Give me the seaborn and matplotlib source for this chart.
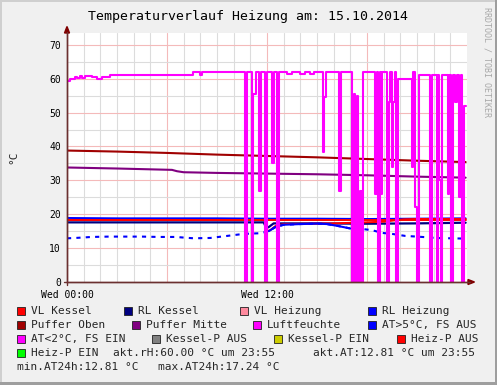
import numpy as np
import pandas as pd
import matplotlib
matplotlib.use("Agg")
import matplotlib.pyplot as plt
import seaborn as sns
from matplotlib.patches import Rectangle, Polygon
from matplotlib.lines import Line2D

# ---------------- data (hours since Wed 00:00) ----------------
ref_hours = [0, 3, 6, 9, 12, 15, 18, 21, 23.92]
puffer_oben = [38.8, 38.5, 38.1, 37.6, 37.2, 36.8, 36.3, 35.8, 35.4]

mitte_hours = [0, 3, 6.3, 6.6, 7.0, 9, 12, 15, 18, 21, 23.92]
puffer_mitte = [33.8, 33.5, 33.1, 32.7, 32.4, 32.2, 32.0, 31.8, 31.5, 31.1, 30.8]

rl_heizung = [18.9, 18.8, 18.8, 18.8, 18.7, 18.7, 18.6, 18.7, 18.8]

rlk_hours = [0, 6, 11.8, 11.95, 12.1, 12.4, 15, 18, 21, 23.92]
rl_kessel = [17.6, 17.6, 17.6, 16.0, 16.2, 17.3, 17.3, 17.2, 17.3, 17.5]

vlk_hours = [0, 6, 11.85, 12.0, 12.2, 12.5, 13, 16, 19, 20.2, 21, 23.92]
vl_kessel = [18.3, 18.3, 18.3, 15.0, 15.3, 16.5, 17.1, 17.3, 17.8, 18.5, 18.6, 18.6]

heizp_hours = [0, 23.92]
heizp_aus = [18.3, 18.3]

at_hours = [0, 0.5, 1.5, 2.5, 3.5, 4.5, 5.5, 6.5, 7.6, 8.6, 9.6, 10.6, 11.6,
            12.1, 12.5, 13.0, 14.0, 15.0, 15.6, 16.3, 17.0, 17.8, 18.3, 18.9,
            19.5, 20.3, 21.0, 21.6, 22.1, 23.0, 23.92]
at_vals = [12.9, 13.0, 13.3, 13.4, 13.4, 13.4, 13.3, 13.3, 12.9, 13.0, 13.6, 14.2, 14.4,
           15.0, 16.2, 16.9, 17.1, 17.24, 17.1, 16.5, 15.8, 15.6, 15.3, 14.5,
           14.2, 13.6, 13.4, 13.2, 13.0, 12.9, 12.81]
at_solid_from, at_solid_to = 12.1, 17.0

hum_hours = [0.00, 0.20, 0.45, 0.60, 0.75, 0.90, 1.05, 1.25, 1.50, 1.80, 2.10, 2.60,
             7.58, 8.00, 8.10, 10.68, 10.80, 11.10, 11.19, 11.34, 11.52, 11.64, 11.88,
             12.00, 12.30, 12.42, 12.60, 12.72, 13.20, 13.50, 14.00, 14.30, 14.60, 14.80,
             15.36, 15.45, 15.54, 16.32, 16.44, 17.10, 17.22, 17.28, 17.40, 17.46, 17.58,
             17.70, 17.76, 18.48, 18.60, 18.66, 18.78, 18.84, 18.90, 19.20, 19.32, 19.38,
             19.48, 19.58, 19.68, 19.77, 19.86, 20.70, 20.79, 20.88, 21.00, 21.12, 21.78,
             21.90, 22.20, 22.29, 22.35, 22.44, 22.53, 22.86, 22.95, 23.07, 23.19, 23.28,
             23.40, 23.52, 23.64, 23.73, 23.82, 23.92]
hum_vals = [59.3, 60.0, 60.6, 60.1, 60.8, 60.2, 60.7, 60.8, 60.4, 60.0, 60.6, 61.0,
            62.0, 61.2, 62.0, 0, 62.0, 0, 55.5, 62.0, 27.0, 62.0, 0,
            62.0, 35.0, 62.0, 0, 62.0, 61.3, 62.0, 61.3, 62.0, 61.4, 62.0,
            38.4, 54.6, 62.0, 27.0, 62.0, 0, 55.5, 0, 55.0, 0, 27.0,
            0, 62.0, 26.0, 62.0, 0, 62.0, 26.0, 62.0, 0, 53.0, 62.0,
            34.0, 53.0, 62.0, 0, 60.0, 34.0, 62.0, 22.0, 0, 61.0, 0,
            61.0, 0, 61.0, 30.0, 0, 61.0, 26.0, 61.0, 0, 61.0, 53.0,
            61.0, 25.0, 61.0, 0, 52.0, 52.0]

legend_labels = ["VL Kessel", "RL Kessel", "VL Heizung", "RL Heizung",
                 "Puffer Oben", "Puffer Mitte", "Luftfeuchte", "AT>5°C, FS AUS",
                 "AT<2°C, FS EIN", "Kessel-P AUS", "Kessel-P EIN", "Heiz-P AUS",
                 "Heiz-P EIN"]
legend_colors = ["#FF0000", "#000080", "#FF8A9E", "#0000FF",
                 "#A00000", "#800080", "#FF00FF", "#0000FF",
                 "#FF00FF", "#808080", "#CCCC00", "#FF0000",
                 "#00FF00"]
info_texts = ["akt.rH:60.00 °C um 23:55", "akt.AT:12.81 °C um 23:55",
              "min.AT24h:12.81 °C", "max.AT24h:17.24 °C"]
title = "Temperaturverlauf Heizung am: 15.10.2014"
x_tick_labels = ["Wed 00:00", "Wed 12:00"]

# ---------------- figure ----------------
sns.set_theme(style="white")
plt.rcParams["font.family"] = ["DejaVu Sans Mono", "DejaVu Sans"]

W, H = 497, 385
fig = plt.figure(figsize=(W / 100, H / 100), dpi=100, facecolor="#F0F0F0")
def fx(px): return px / W
def fy(py): return 1 - py / H

ax = fig.add_axes([fx(67), fy(282), 400 / W, 249 / H])
ax.set_facecolor("white")

axis_col = "#6B3030"
arrow_col = "#7F0000"

# grid
ax.set_xlim(0, 24)
ax.set_ylim(0, 73.5)
ax.set_xticks([0, 6, 12, 18])
ax.set_xticks(np.arange(1, 24, 1), minor=True)
ax.set_xticklabels([x_tick_labels[0], "", x_tick_labels[1], ""])
ax.set_yticks(np.arange(0, 71, 10))
ax.set_yticks(np.arange(5, 71, 10), minor=True)
ax.grid(which="minor", color="#DCDCDC", lw=0.8)
ax.grid(which="major", color="#F4BABA", lw=0.8)
ax.set_axisbelow(True)

for s in ["top", "right"]:
    ax.spines[s].set_visible(False)
for s in ["left", "bottom"]:
    ax.spines[s].set_color(axis_col)
    ax.spines[s].set_linewidth(1.0)
ax.tick_params(which="both", direction="inout", length=3, width=0.8, color=axis_col,
               labelsize=7, labelcolor="black", pad=3)
ax.tick_params(axis="x", pad=4)

# series
kw = dict(estimator=None, sort=False, legend=False, ax=ax)
sns.lineplot(x=ref_hours, y=puffer_oben, color="#A00000", lw=1.5, **kw)
sns.lineplot(x=mitte_hours, y=puffer_mitte, color="#800080", lw=1.5, **kw)
sns.lineplot(x=rlk_hours, y=rl_kessel, color="#000080", lw=1.6, **kw)
sns.lineplot(x=ref_hours, y=rl_heizung, color="#0000FF", lw=1.4, **kw)
sns.lineplot(x=heizp_hours, y=heizp_aus, color="#FF0000", lw=1.4, **kw)
sns.lineplot(x=vlk_hours, y=vl_kessel, color="#FF0000", lw=1.4, **kw)

at_df = pd.DataFrame({"h": at_hours, "v": at_vals})
sns.lineplot(data=at_df, x="h", y="v", color="#0000FF", lw=1.5, dashes=False,
             linestyle=(0, (2, 2.5)), **kw)
solid = at_df[(at_df.h >= at_solid_from) & (at_df.h <= at_solid_to)]
sns.lineplot(data=solid, x="h", y="v", color="#0000FF", lw=1.5, **kw)

sns.lineplot(x=hum_hours, y=hum_vals, color="#FF00FF", lw=1.5,
             drawstyle="steps-post", **kw)
ax.set_xlabel("")
ax.set_ylabel("")

# axis arrows
fig.add_artist(Line2D([fx(67), fx(67)], [fy(285), fy(32)], color=axis_col, lw=1.0,
                      transform=fig.transFigure))
fig.add_artist(Line2D([fx(64), fx(470)], [fy(282), fy(282)], color=axis_col, lw=1.0,
                      transform=fig.transFigure))
fig.add_artist(Polygon([[fx(64.5), fy(33)], [fx(69.5), fy(33)], [fx(67), fy(26.5)]],
                       closed=True, color=arrow_col, transform=fig.transFigure))
fig.add_artist(Polygon([[fx(468), fy(279.5)], [fx(468), fy(284.5)], [fx(474.5), fy(282)]],
                       closed=True, color=arrow_col, transform=fig.transFigure))

# titles
fig.text(fx(248.5), fy(16.5), title, ha="center", va="center", fontsize=9.5, color="black")
fig.text(fx(13.5), fy(157), "°C", rotation=90, ha="center", va="center", fontsize=8)
fig.text(fx(487.5), fy(7), "RRDTOOL / TOBI OETIKER", rotation=270, ha="center", va="top",
         fontsize=6, color="#A8A8A8")

# legend
rows_y = [311, 325, 339, 352.7, 367.3]
text_x = [[30.7, 138.3, 254, 382],
          [30.7, 145.7, 267, 382],
          [30.7, 166, 288.3, 410.7],
          [30.7]]
idx = 0
for r, xs in enumerate(text_x):
    for tx in xs:
        lab, col = legend_labels[idx], legend_colors[idx]
        fig.add_artist(Rectangle((fx(tx - 14), fy(rows_y[r] + 4)), 8 / W, 8 / H,
                                 transform=fig.transFigure, facecolor=col,
                                 edgecolor="#202020", lw=0.6))
        fig.text(fx(tx), fy(rows_y[r]), lab, ha="left", va="center", fontsize=8)
        idx += 1
fig.text(fx(113), fy(rows_y[3]), info_texts[0], ha="left", va="center", fontsize=8)
fig.text(fx(312.7), fy(rows_y[3]), info_texts[1], ha="left", va="center", fontsize=8)
fig.text(fx(16.7), fy(rows_y[4]), info_texts[2], ha="left", va="center", fontsize=8)
fig.text(fx(158.3), fy(rows_y[4]), info_texts[3], ha="left", va="center", fontsize=8)

# frame (3D-ish border)
fig.add_artist(Rectangle((0, fy(2)), 1, 2 / H, transform=fig.transFigure, color="#CFCFCF", lw=0))
fig.add_artist(Rectangle((0, 0), 2 / W, 1, transform=fig.transFigure, color="#CFCFCF", lw=0))
fig.add_artist(Rectangle((0, 0), 1, 3 / H, transform=fig.transFigure, color="#9E9E9E", lw=0))
fig.add_artist(Rectangle((fx(494.5), 0), 2.5 / W, 1, transform=fig.transFigure, color="#9E9E9E", lw=0))

fig.savefig("out.png", dpi=100, facecolor=fig.get_facecolor())
